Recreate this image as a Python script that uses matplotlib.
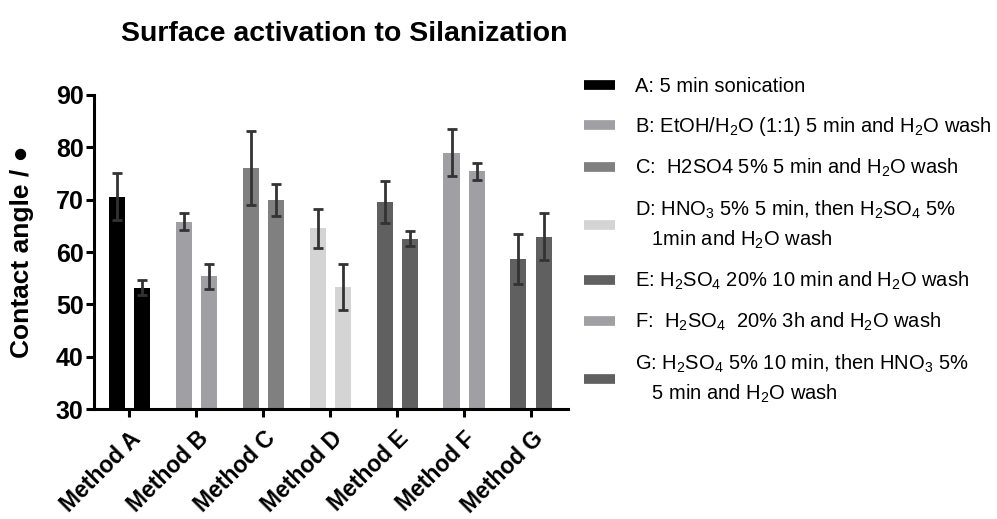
import matplotlib
matplotlib.use("Agg")
import matplotlib.pyplot as plt
from matplotlib.lines import Line2D
import numpy as np

plt.rcParams['font.family'] = ['Liberation Sans', 'DejaVu Sans']
plt.rcParams['mathtext.fontset'] = 'custom'
plt.rcParams['mathtext.rm'] = 'Liberation Sans'
plt.rcParams['mathtext.it'] = 'Liberation Sans:italic'
plt.rcParams['mathtext.bf'] = 'Liberation Sans:bold'

categories = ["Method A", "Method B", "Method C", "Method D", "Method E", "Method F", "Method G"]
bar1_values = [70.6, 65.8, 76.0, 64.5, 69.6, 79.0, 58.7]
bar1_upper = [75.1, 67.5, 83.2, 68.3, 73.6, 83.5, 63.5]
bar1_lower = [66.2, 64.2, 68.9, 60.8, 65.6, 74.6, 53.9]
bar2_values = [53.2, 55.5, 69.9, 53.4, 62.5, 75.4, 62.9]
bar2_upper = [54.6, 57.8, 72.9, 57.8, 64.1, 77.0, 67.5]
bar2_lower = [51.7, 53.0, 66.8, 49.0, 61.1, 73.7, 58.4]
colors = ["#000000", "#A0A0A4", "#808080", "#D4D4D4", "#606060", "#A0A0A4", "#606060"]
legend_labels = [
    "A: 5 min sonication",
    "B: EtOH/H$_2$O (1:1) 5 min and H$_2$O wash",
    "C:  H2SO4 5% 5 min and H$_2$O wash",
    "D: HNO$_3$ 5% 5 min, then H$_2$SO$_4$ 5%\n   1min and H$_2$O wash",
    "E: H$_2$SO$_4$ 20% 10 min and H$_2$O wash",
    "F:  H$_2$SO$_4$  20% 3h and H$_2$O wash",
    "G: H$_2$SO$_4$ 5% 10 min, then HNO$_3$ 5%\n   5 min and H$_2$O wash",
]
yticks = [30, 40, 50, 60, 70, 80, 90]

fig = plt.figure(figsize=(9.97, 5.19), dpi=100)
ax = fig.add_axes([0.0943, 0.2119, 0.4754, 0.6051])

x = np.arange(len(categories))
off = 0.19
w = 0.24
v1 = np.array(bar1_values); v2 = np.array(bar2_values)
err1 = [v1 - np.array(bar1_lower), np.array(bar1_upper) - v1]
err2 = [v2 - np.array(bar2_lower), np.array(bar2_upper) - v2]
ekw = dict(ecolor="#333333", elinewidth=2, capsize=3.5, capthick=2)
ax.bar(x - off, v1, w, color=colors, yerr=err1, error_kw=ekw, zorder=2)
ax.bar(x + off, v2, w, color=colors, yerr=err2, error_kw=ekw, zorder=2)

ax.set_xlim(-0.53, 6.55)
ax.set_ylim(30, 90)
ax.set_yticks(yticks)
ax.set_yticklabels([str(t) for t in yticks], fontsize=18, fontweight='bold')
ax.set_xticks(x)
ax.set_xticklabels(categories, rotation=45, ha='right', va='top', rotation_mode='anchor',
                   fontsize=16.5, fontweight='bold')
for s in ['top', 'right']:
    ax.spines[s].set_visible(False)
for s in ['left', 'bottom']:
    ax.spines[s].set_linewidth(2.2)
ax.tick_params(axis='both', width=2.2, length=6, pad=1.5)
ax.tick_params(axis='x', pad=7)
ax.set_ylabel("Contact angle / \u25CF", fontsize=19, fontweight='bold', va='center')
ax.yaxis.set_label_coords(-0.152, 0.5)
fig.text(0.345, 0.935, "Surface activation to Silanization", fontsize=20.5, fontweight='bold',
         ha='center', va='center')

handles = [Line2D([0], [0], color=c, lw=7, solid_capstyle='butt') for c in colors]
leg = fig.legend(handles, legend_labels, loc='upper left', bbox_to_anchor=(0.578, 0.868),
                 frameon=False, fontsize=14.5, handlelength=1.5, handletextpad=1.0,
                 labelspacing=0.95, borderaxespad=0)
for t in leg.get_texts():
    t.set_linespacing(1.45)

fig.savefig("out.png", dpi=100)
